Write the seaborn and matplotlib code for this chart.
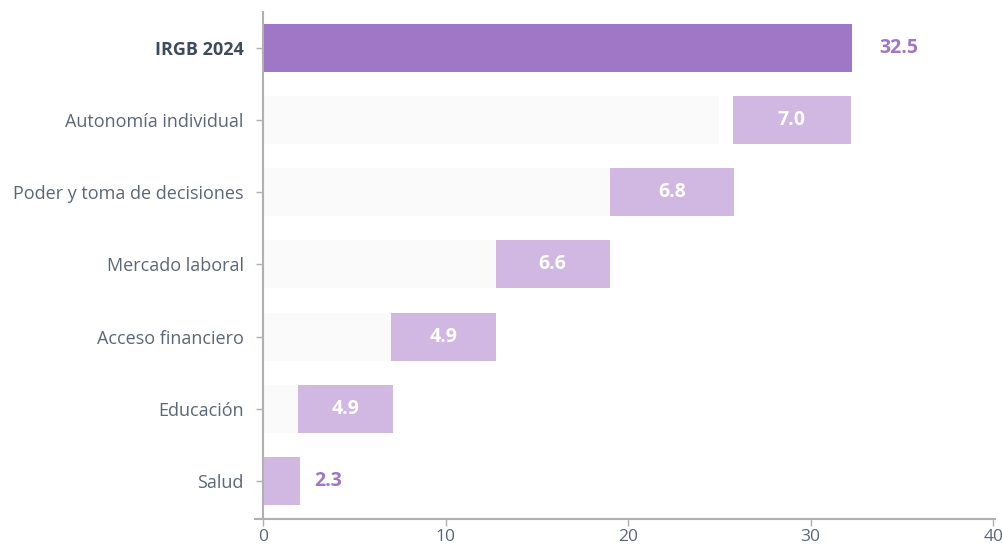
import matplotlib
matplotlib.use("Agg")
import matplotlib.pyplot as plt
import seaborn as sns
import pandas as pd

categories = ["IRGB 2024", "Autonomía individual", "Poder y toma de decisiones",
              "Mercado laboral", "Acceso financiero", "Educación", "Salud"]
bar_start = [0.0, 25.75, 19.0, 12.75, 7.0, 1.9, 0.0]
bar_end = [32.25, 32.2, 25.8, 19.0, 12.75, 7.1, 2.05]
base_end = [0.0, 25.0, 19.0, 12.75, 7.0, 1.9, 0.0]
value_labels = ["32.5", "7.0", "6.8", "6.6", "4.9", "4.9", "2.3"]
x_ticks = [0, 10, 20, 30, 40]

TOTAL_C = "#a076c6"
SEG_C = "#d1b8e3"
BASE_C = "#fafafa"
TXT_C = "#5c6679"
TXT_BOLD = "#3e4a5d"

sns.set_theme(style="white")
plt.rcParams["font.family"] = ["Open Sans", "DejaVu Sans"]

df = pd.DataFrame({"cat": categories, "start": bar_start, "end": bar_end, "base": base_end})

fig = plt.figure(figsize=(10.03, 5.48), dpi=100)
ax = fig.add_axes([0.2542, 0.0529, 0.7378, 0.9252])

pal_main = {c: (TOTAL_C if i == 0 else SEG_C) for i, c in enumerate(categories)}
common = dict(y="cat", hue="cat", order=categories, width=0.665, legend=False,
              ax=ax, linewidth=0, saturation=1)
sns.barplot(data=df, x="end", palette=pal_main, zorder=2, **common)
sns.barplot(data=df, x="start", palette={c: "white" for c in categories}, zorder=3, **common)
sns.barplot(data=df, x="base", palette={c: BASE_C for c in categories}, zorder=4, **common)

outside = {0: 20, 6: 10}
for i, (s, e, lab) in enumerate(zip(bar_start, bar_end, value_labels)):
    if i in outside:
        ax.annotate(lab, (e, i), xytext=(outside[i], 0), textcoords="offset points",
                    ha="left", va="center", fontsize=14, fontweight="bold",
                    color=TOTAL_C, zorder=6)
    else:
        ax.text((s + e) / 2, i, lab, ha="center", va="center", fontsize=14,
                fontweight="bold", color="white", zorder=6)

ax.set_xlim(-0.44, 40.1)
ax.set_ylim(6.53, -0.5)
ax.set_xticks(x_ticks)
ax.set_xticklabels([str(t) for t in x_ticks])
ax.set_xlabel("")
ax.set_ylabel("")

for sp in ["top", "right"]:
    ax.spines[sp].set_visible(False)
ax.spines["left"].set_position(("data", 0))
for sp in ["left", "bottom"]:
    ax.spines[sp].set_color("#b0b0b0")
    ax.spines[sp].set_linewidth(1.5)
    ax.spines[sp].set_zorder(10)

ax.tick_params(axis="both", which="major", length=5, width=1, color="#b0b0b0",
               labelcolor=TXT_C)
ax.tick_params(axis="y", left=True, pad=9, labelsize=13)
ax.tick_params(axis="x", bottom=True, pad=2, labelsize=12.5)

for i, t in enumerate(ax.get_yticklabels()):
    if i == 0:
        t.set_fontweight("bold")
        t.set_color(TXT_BOLD)

fig.savefig("out.png", dpi=100)
